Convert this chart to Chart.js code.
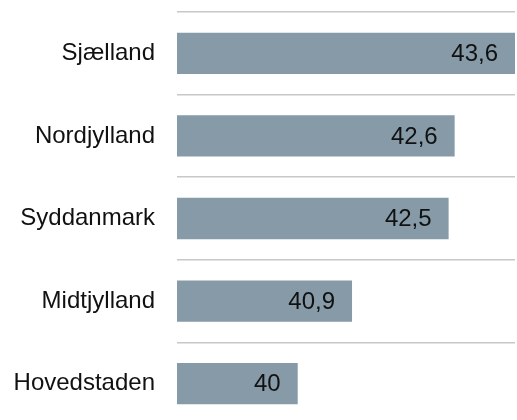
<!DOCTYPE html>
<html>
<head>
<meta charset="utf-8">
<script src="https://cdn.jsdelivr.net/npm/chart.js@4"></script>
<style>
  html, body { margin: 0; padding: 0; background: #ffffff; overflow: hidden; }
  #wrap { width: 517px; height: 420px; overflow: hidden; }
</style>
</head>
<body>
<div id="wrap"><canvas id="c" width="517" height="425"></canvas></div>
<script>
const categories = ["Sjælland", "Nordjylland", "Syddanmark", "Midtjylland", "Hovedstaden"];
const values = [43.6, 42.6, 42.5, 40.9, 40];
const axisMin = 38;
const axisMax = 43.6;

const FONT = "'Liberation Sans', Arial, sans-serif";

const valueLabels = {
  id: 'valueLabels',
  afterDatasetsDraw(chart) {
    const ctx = chart.ctx;
    const meta = chart.getDatasetMeta(0);
    ctx.save();
    ctx.font = "24px " + FONT;
    ctx.fillStyle = "#111111";
    ctx.textAlign = "right";
    ctx.textBaseline = "middle";
    meta.data.forEach((bar, i) => {
      const txt = String(values[i]).replace('.', ',');
      ctx.fillText(txt, bar.x - 17, bar.y + 1);
    });
    ctx.restore();
  }
};

new Chart(document.getElementById('c'), {
  type: 'bar',
  data: {
    labels: categories,
    datasets: [{
      data: values,
      backgroundColor: '#869ba7',
      borderWidth: 0,
      barPercentage: 0.5,
      categoryPercentage: 1.0,
      base: axisMin
    }]
  },
  options: {
    indexAxis: 'y',
    responsive: false,
    animation: false,
    devicePixelRatio: 1,
    layout: { padding: { top: 12, right: 2, bottom: 0, left: 0 } },
    plugins: {
      legend: { display: false },
      tooltip: { enabled: false }
    },
    scales: {
      x: {
        display: false,
        min: axisMin,
        max: axisMax
      },
      y: {
        afterFit(scale) {
          scale.width = 177;
          scale.paddingTop = 0;
          scale.paddingBottom = 0;
        },
        border: { display: false },
        grid: {
          offset: true,
          color: '#c8c8c8',
          lineWidth: 1.5,
          drawTicks: false
        },
        ticks: {
          padding: 22,
          color: '#111111',
          font: { family: FONT, size: 24 }
        }
      }
    }
  },
  plugins: [valueLabels]
});
</script>
</body>
</html>
